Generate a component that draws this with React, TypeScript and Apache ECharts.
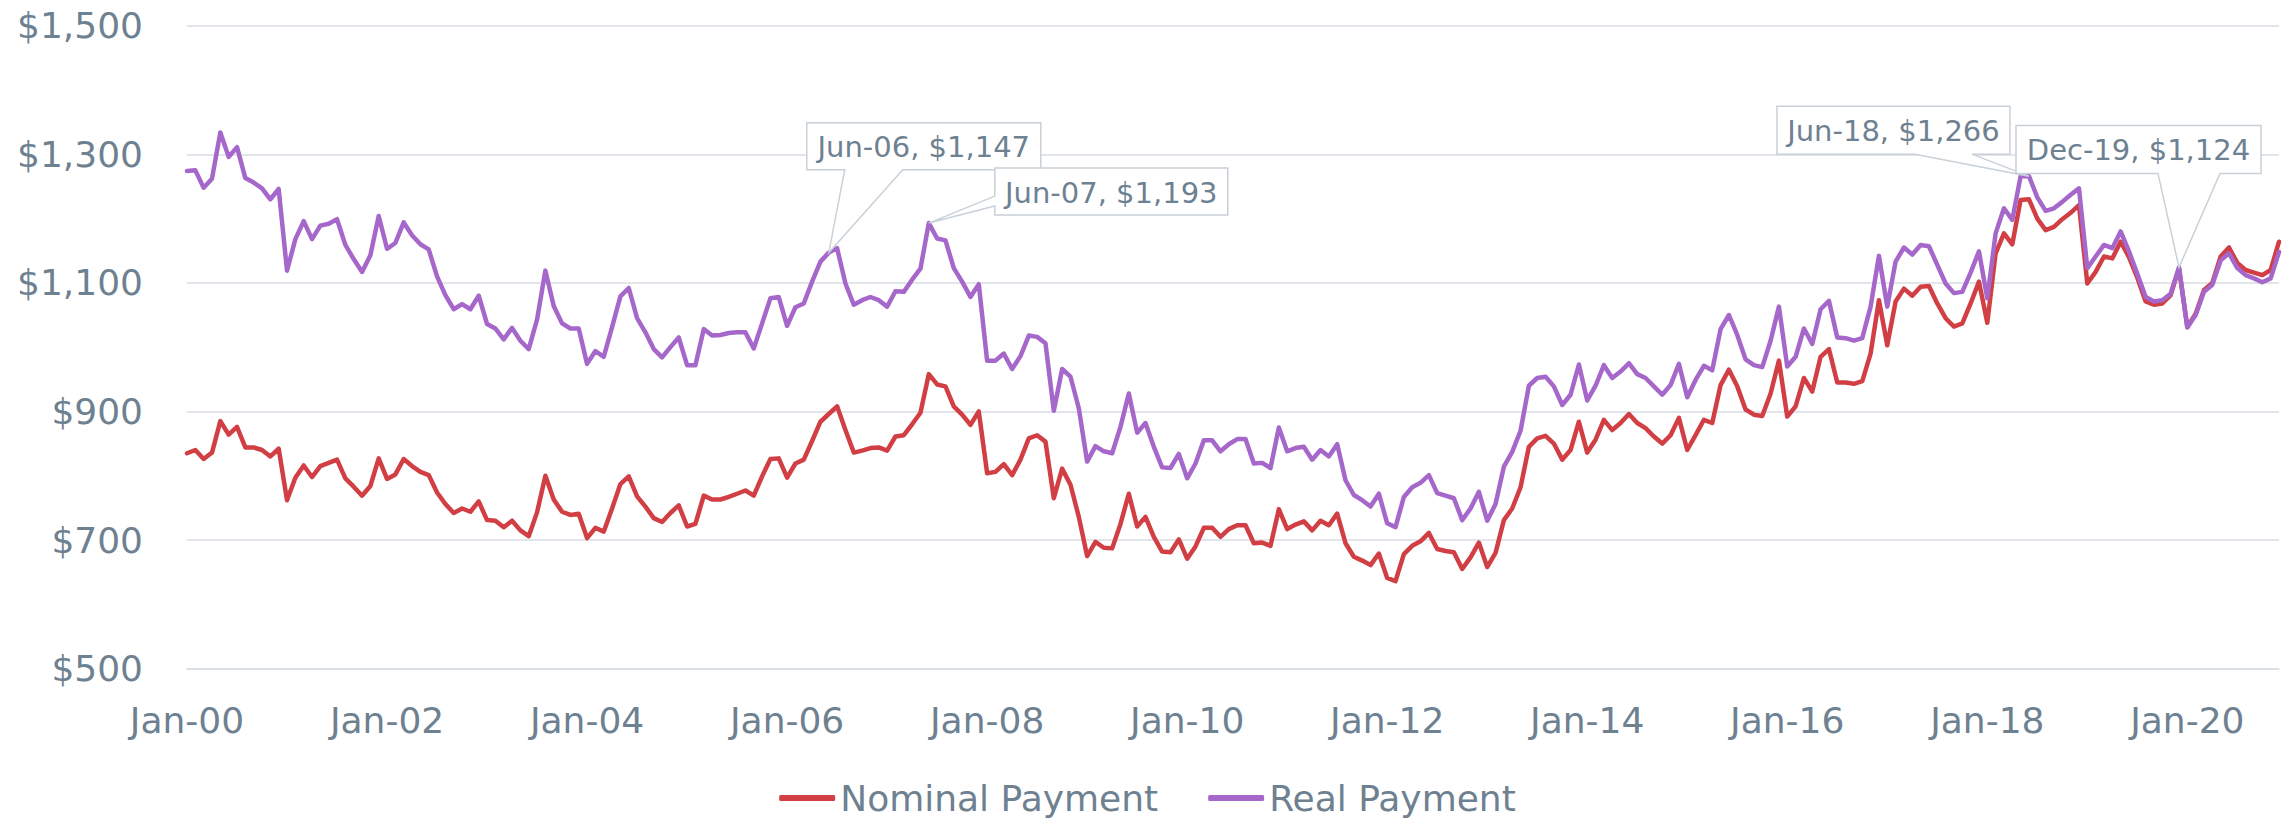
import React, { useEffect, useRef } from "react";
import * as echarts from "echarts";

// ---------- DATA ----------
const YEARS = ["00","01","02","03","04","05","06","07","08","09","10","11","12","13","14","15","16","17","18","19","20"];
const MONTHS = ["Jan","Feb","Mar","Apr","May","Jun","Jul","Aug","Sep","Oct","Nov","Dec"];
const categories: string[] = YEARS.flatMap((y) => MONTHS.map((m) => `${m}-${y}`));

const nominalPayment = [
  835, 840, 826, 836, 885, 864, 876, 844, 844, 840, 830, 842,
  762, 797, 816, 798, 815, 820, 825, 796, 783, 769, 784, 827,
  795, 802, 826, 815, 806, 801, 774, 756, 742, 749, 744, 760,
  731, 730, 720, 730, 715, 706, 743, 800, 763, 744, 739, 741,
  703, 719, 713, 749, 787, 799, 768, 752, 734, 728, 742, 754,
  721, 725, 769, 763, 763, 767, 772, 777, 769, 799, 826, 827,
  797, 819, 825, 854, 884, 896, 908, 871, 836, 839, 843, 844,
  839, 861, 863, 880, 898, 958, 942, 939, 908, 895, 879, 900,
  804, 806, 818, 801, 825, 858, 863, 853, 765, 811, 786, 736,
  675, 697, 688, 687, 725, 772, 721, 736, 705, 682, 681, 701,
  671, 690, 719, 719, 705, 717, 723, 723, 695, 696, 691, 748,
  717, 724, 729, 715, 730, 723, 741, 695, 674, 668, 661, 679,
  641, 636, 678, 691, 698, 711, 686, 683, 681, 655, 673, 696,
  658, 680, 731, 749, 782, 845, 858, 862, 850, 825, 840, 884,
  836, 856, 887, 871, 882, 896, 882, 874, 861, 850, 863, 890,
  840, 863, 887, 882, 941, 965, 939, 903, 895, 893, 928, 979,
  892, 908, 952, 931, 985, 997, 945, 945, 943, 947, 990, 1073,
  1003, 1071, 1091, 1080, 1094, 1095, 1068, 1045, 1032, 1037, 1068, 1102,
  1038, 1146, 1177, 1160, 1229, 1230, 1200, 1182, 1187, 1199, 1209, 1221,
  1099, 1117, 1141, 1138, 1164, 1140, 1108, 1071, 1066, 1068, 1081, 1123,
  1031, 1052, 1089, 1100, 1141, 1155, 1131, 1120, 1116, 1112, 1120, 1164,
];

const realPayment = [
  1274, 1275, 1248, 1262, 1334, 1296, 1311, 1263, 1256, 1247, 1230, 1246,
  1119, 1168, 1196, 1168, 1189, 1192, 1199, 1159, 1137, 1117, 1143, 1204,
  1153, 1162, 1194, 1174, 1160, 1152, 1110, 1081, 1059, 1067, 1059, 1080,
  1036, 1029, 1012, 1030, 1010, 997, 1043, 1119, 1064, 1037, 1029, 1029,
  974, 994, 985, 1031, 1079, 1092, 1045, 1023, 997, 984, 1000, 1015,
  972, 972, 1028, 1018, 1019, 1022, 1023, 1023, 998, 1037, 1076, 1078,
  1033, 1062, 1068, 1102, 1133, 1147, 1154, 1099, 1066, 1073, 1078, 1073,
  1063, 1087, 1086, 1105, 1122, 1193, 1169, 1166, 1123, 1102, 1078, 1098,
  979, 979, 990, 966, 986, 1018, 1016, 1006, 901, 966, 954, 905,
  822, 846, 838, 835, 876, 928, 867, 882, 845, 813, 812, 834,
  796, 819, 855, 855, 838, 849, 857, 857, 819, 820, 812, 875,
  838, 843, 845, 825, 840, 830, 849, 793, 770, 762, 752, 772,
  726, 720, 767, 782, 789, 801, 773, 769, 765, 731, 749, 775,
  730, 756, 814, 837, 870, 940, 952, 954, 939, 910, 926, 973,
  917, 940, 972, 952, 962, 975, 958, 952, 939, 926, 941, 974,
  922, 949, 971, 964, 1028, 1050, 1019, 981, 972, 969, 1010, 1063,
  970, 985, 1029, 1005, 1059, 1072, 1015, 1014, 1010, 1014, 1063, 1142,
  1063, 1133, 1155, 1144, 1159, 1157, 1128, 1099, 1084, 1086, 1116, 1149,
  1076, 1177, 1216, 1198, 1266, 1266, 1233, 1212, 1216, 1226, 1237, 1247,
  1123, 1141, 1159, 1154, 1180, 1149, 1114, 1078, 1071, 1073, 1083, 1124,
  1031, 1050, 1086, 1097, 1135, 1146, 1123, 1112, 1107, 1101, 1107, 1148,
];

const seriesNames = ["Nominal Payment", "Real Payment"];
const yMin = 500;
const yMax = 1500;
const yInterval = 200;

// Annotated points (on the Real Payment series)
const calloutIndices = [77, 89, 221, 239];
const calloutTexts = ["Jun-06, $1,147", "Jun-07, $1,193", "Jun-18, $1,266", "Dec-19, $1,124"];

// ---------- LAYOUT / STYLE ----------
const calloutLayout = [
  { dx: -22, dy: -130, w: 234, h: 47, tail: "bottom", t1: 16, t2: 74 },
  { dx: 66, dy: -55, w: 233, h: 47, tail: "left", t1: -27, t2: -17 },
  { dx: -252, dy: -70, w: 233, h: 48, tail: "bottom", t1: -114, t2: -57 },
  { dx: -163, dy: -142, w: 245, h: 48, tail: "bottom", t1: -21, t2: 41 },
];

const TEXT_COLOR = "#6E8191";
const GRID_COLOR = "#D9DEE4";
const RED = "#D13F44";
const PURPLE = "#A667CA";
const FONT = '"DejaVu Sans", sans-serif';

const fmtMoney = (v: number) => "$" + v.toLocaleString("en-US");

export default function App() {
  const ref = useRef<HTMLDivElement>(null);

  useEffect(() => {
    if (!ref.current) return;
    const chart = echarts.init(ref.current, undefined, { renderer: "svg" });
    chart.setOption({
      animation: false,
      backgroundColor: "#ffffff",
      textStyle: { fontFamily: FONT },
      grid: { left: 187, right: 16, top: 25.7, bottom: 152.4, containLabel: false },
      legend: {
        data: seriesNames,
        top: 780,
        left: "center",
        padding: 0,
        icon: "roundRect",
        itemWidth: 56,
        itemHeight: 6,
        itemGap: 50,
        textStyle: { color: TEXT_COLOR, fontSize: 36, lineHeight: 36, fontFamily: FONT },
      },
      xAxis: {
        type: "category",
        data: categories,
        boundaryGap: false,
        axisLine: { show: true, lineStyle: { color: GRID_COLOR, width: 1.5 } },
        axisTick: { show: false },
        splitLine: { show: false },
        axisLabel: {
          interval: 23,
          color: TEXT_COLOR,
          fontSize: 36,
          fontFamily: FONT,
          margin: 34,
        },
      },
      yAxis: {
        type: "value",
        min: yMin,
        max: yMax,
        interval: yInterval,
        axisLine: { show: false },
        axisTick: { show: false },
        splitLine: { show: true, lineStyle: { color: GRID_COLOR, width: 1.5 } },
        axisLabel: {
          color: TEXT_COLOR,
          fontSize: 36,
          fontFamily: FONT,
          margin: 44,
          formatter: (v: number) => fmtMoney(v),
        },
      },
      series: [
        {
          name: seriesNames[0],
          type: "line",
          data: nominalPayment,
          symbol: "none",
          color: RED,
          lineStyle: { color: RED, width: 4.5, join: "round", cap: "round" },
          z: 2,
        },
        {
          name: seriesNames[1],
          type: "line",
          data: realPayment,
          symbol: "none",
          color: PURPLE,
          lineStyle: { color: PURPLE, width: 4.5, join: "round", cap: "round" },
          z: 3,
        },
      ],
    });

    const graphics: any[] = [];
    calloutIndices.forEach((idx, i) => {
      const p = chart.convertToPixel({ seriesIndex: 1 }, [idx, realPayment[idx]]) as number[];
      const ax = p[0];
      const ay = p[1];
      const L = calloutLayout[i];
      const left = ax + L.dx;
      const top = ay + L.dy;
      const right = left + L.w;
      const bottom = top + L.h;
      let points: number[][];
      if (L.tail === "bottom") {
        points = [
          [left, top], [right, top], [right, bottom],
          [ax + L.t2, bottom], [ax, ay], [ax + L.t1, bottom],
          [left, bottom],
        ];
      } else {
        points = [
          [left, top], [right, top], [right, bottom], [left, bottom],
          [left, ay + L.t2], [ax, ay], [left, ay + L.t1],
        ];
      }
      graphics.push({
        type: "polygon",
        shape: { points },
        style: { fill: "#ffffff", stroke: "#C8D0D8", lineWidth: 1.5 },
        z: 100 + i * 2,
        silent: true,
      });
      graphics.push({
        type: "text",
        x: left + L.w / 2,
        y: top + L.h / 2 + 1,
        style: {
          text: calloutTexts[i],
          fill: TEXT_COLOR,
          fontSize: 29,
          fontFamily: FONT,
          align: "center",
          verticalAlign: "middle",
          textAlign: "center",
          textVerticalAlign: "middle",
        },
        z: 101 + i * 2,
        silent: true,
      });
    });
    chart.setOption({ graphic: graphics });

    return () => chart.dispose();
  }, []);

  return (
    <div
      ref={ref}
      style={{ position: "fixed", left: 0, top: 0, width: 2295, height: 821, background: "#fff" }}
    />
  );
}
